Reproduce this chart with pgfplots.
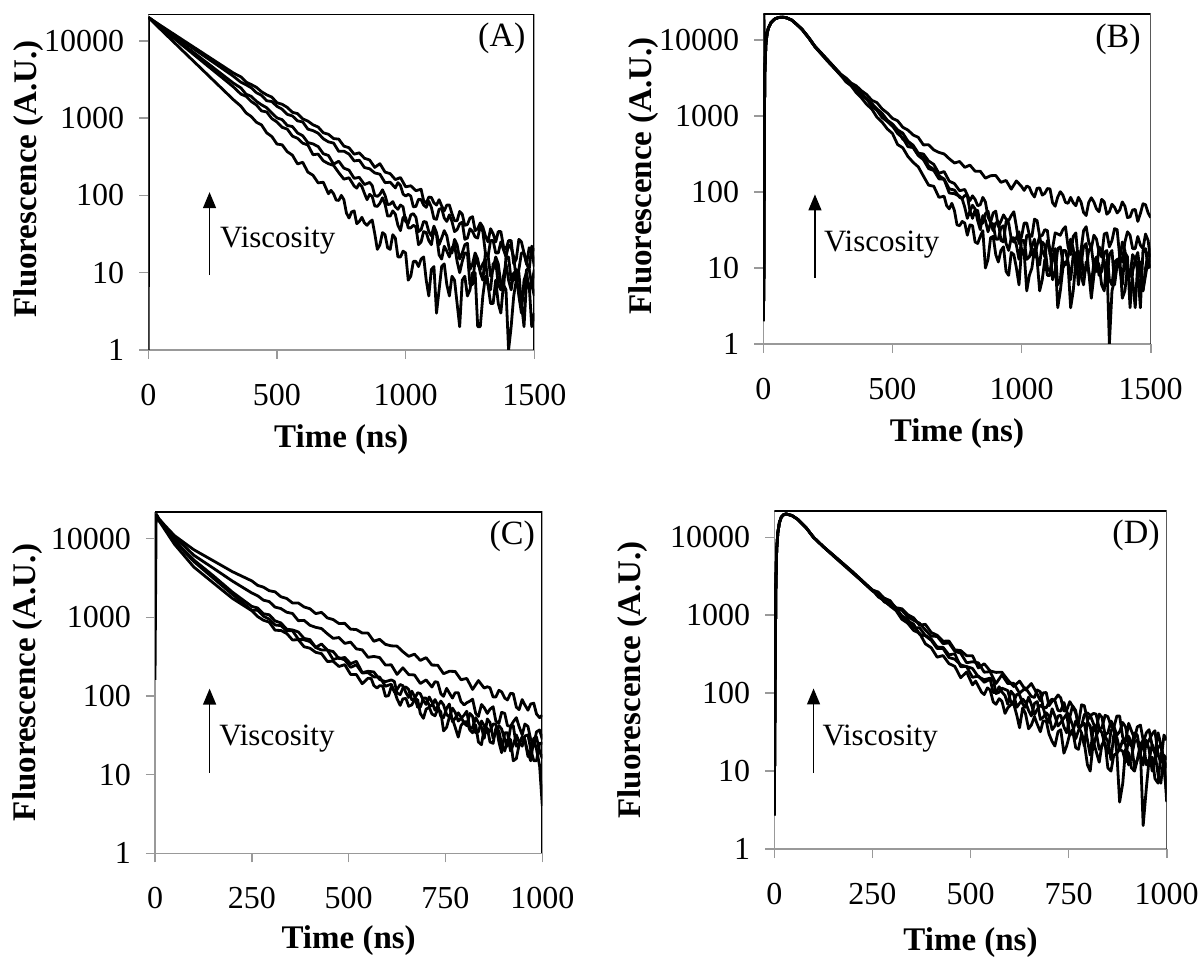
\documentclass[border=0pt]{standalone}
\usepackage{fontspec}
\setmainfont{Liberation Serif}
\usepackage{pgfplots}
\pgfplotsset{compat=1.18}
\usetikzlibrary{arrows.meta}

\pgfplotsset{
  every axis/.append style={
    scale only axis, ymode=log, ymin=1, ymax=22000,
    ytick={1,10,100,1000,10000}, yticklabels={1,10,100,1000,10000},
    yminorticks=false, xminorticks=false,
    axis x line*=bottom, axis y line*=left,
    axis line style={gray!80, line width=0.8pt, -},
    tick align=outside, major tick length=4.5pt,
    tick style={gray!80, line width=0.8pt},
    tick label style={font=\fontsize{16}{18}\selectfont},
    xticklabel style={yshift=-9pt},
    yticklabel style={xshift=-4pt},
    label style={font=\fontsize{16.5}{19}\selectfont\bfseries},
    xlabel={Time (ns)}, ylabel={Fluorescence (A.U.)},
  },
}
\tikzset{
  fcurve/.style={black, line width=1.4pt, line join=round, mark=none},
  fann/.style={font=\fontsize{15.5}{18}\selectfont, inner sep=0pt},
  ftag/.style={font=\fontsize{17}{19}\selectfont, inner sep=0pt},
  farr/.style={-{Triangle[width=6.5pt,length=8pt]}, line width=0.7pt},
}
\newcommand{\frameTR}{\draw[black, line width=0.9pt] (rel axis cs:0,1) -- (rel axis cs:1,1) -- (rel axis cs:1,0);}

\begin{document}
\begin{tikzpicture}

% ---------------- (A) ----------------
\begin{axis}[at={(74.15pt,304.5pt)}, anchor=south west,
  width=193pt, height=167.85pt, xmin=0, xmax=1500,
  xtick={0,500,1000,1500}, xticklabels={0,500,1000,1500},
  ylabel style={at={(axis description cs:-0.309,0.51)}, anchor=center},
  xlabel style={at={(axis description cs:0.5,-0.268)}, anchor=center}]
\addplot[fcurve] table {
0 1
1 20000
50 13800
100 9530
150 6580
200 4550
250 3140
300 2170
330 1735
360 1424
380 1165
400 1047
420 883
440 815
460 644
480 577
500 461
520 451
540 367
560 331
580 255
600 268
620 200
640 182
660 145
680 148
700 105
710 116
720 105
730 87
740 86
750 100
760 88
770 59
780 51
790 61
800 63
810 43
820 46
830 52
840 44
850 41
860 45
870 48
880 32
890 20
900 23
910 33
920 31
930 21
940 20
950 31
960 28
970 16
980 16
990 19
1000 18
1010 8
1020 9
1030 14
1040 14
1050 12
1060 15
1070 16
1080 8
1090 5
1100 11
1110 12
1120 3
1130 6
1140 12
1150 13
1160 7
1170 5
1180 9
1190 8
1200 4
1210 2
1220 8
1230 9
1240 5
1250 6
1260 10
1270 10
1280 2
1290 2
1300 5
1310 9
1320 7
1330 4
1340 4
1350 8
1360 4
1370 3
1380 7
1390 6
1400 1
1410 2
1420 5
1430 8
1440 6
1450 4
1460 2
1470 8
1480 7
1490 2
1500 3
};
\addplot[fcurve] table {
1 20000
50 14620
100 10700
150 7830
200 5730
250 4190
300 3070
330 2540
360 2040
380 1910
400 1638
420 1477
440 1237
460 1199
480 984
500 890
520 759
540 720
560 584
580 547
600 473
620 449
640 336
660 342
680 280
700 257
720 244
740 197
760 162
780 169
800 132
810 124
820 142
830 130
840 106
850 88
860 103
870 97
880 73
890 72
900 79
910 93
920 77
930 54
940 54
950 63
960 57
970 41
980 35
990 52
1000 52
1010 38
1020 38
1030 41
1040 39
1050 23
1060 25
1070 34
1080 33
1090 26
1100 23
1110 36
1120 31
1130 17
1140 15
1150 22
1160 19
1170 16
1180 21
1190 23
1200 14
1210 10
1220 14
1230 18
1240 18
1250 7
1260 7
1270 15
1280 13
1290 11
1300 13
1310 15
1320 7
1330 6
1340 13
1350 14
1360 7
1370 6
1380 9
1390 13
1400 8
1410 6
1420 10
1430 9
1440 5
1450 3
1460 8
1470 10
1480 6
1490 7
1500 11
};
\addplot[fcurve] table {
1 20000
50 14890
100 11070
150 8240
200 6120
250 4560
300 3390
330 2840
360 2450
380 2035
400 1910
420 1647
440 1484
460 1360
480 1164
500 1004
520 955
540 803
560 776
580 642
600 591
620 482
640 463
660 428
680 346
700 328
720 253
740 277
760 225
780 212
800 166
820 171
840 138
860 147
870 134
880 100
890 97
900 103
910 118
920 100
930 76
940 77
950 83
960 71
970 66
980 75
990 71
1000 46
1010 43
1020 56
1030 58
1040 52
1050 34
1060 36
1070 46
1080 45
1090 34
1100 30
1110 40
1120 33
1130 23
1140 28
1150 35
1160 30
1170 20
1180 18
1190 27
1200 23
1210 15
1220 18
1230 23
1240 24
1250 11
1260 13
1270 18
1280 15
1290 10
1300 8
1310 18
1320 17
1330 9
1340 11
1350 16
1360 13
1370 7
1380 6
1390 16
1400 16
1410 8
1420 8
1430 11
1440 10
1450 4
1460 6
1470 11
1480 11
1490 7
1500 5
};
\addplot[fcurve] table {
1 20000
50 15350
100 11780
150 9040
200 6930
250 5330
300 4090
330 3490
360 2903
380 2695
400 2465
420 2132
440 1969
460 1676
480 1636
500 1417
520 1303
540 1117
560 1065
580 920
600 891
620 720
640 687
660 638
680 540
700 492
720 475
740 371
760 373
780 342
800 279
820 285
840 229
860 221
880 195
900 188
920 146
940 148
960 125
970 146
980 134
990 104
1000 98
1010 103
1020 98
1030 71
1040 72
1050 89
1060 88
1070 75
1080 70
1090 84
1100 70
1110 50
1120 49
1130 66
1140 68
1150 51
1160 46
1170 56
1180 46
1190 34
1200 36
1210 43
1220 45
1230 27
1240 28
1250 37
1260 34
1270 29
1280 28
1290 40
1300 34
1310 18
1320 16
1330 26
1340 26
1350 18
1360 18
1370 25
1380 20
1390 16
1400 23
1410 21
1420 16
1430 8
1440 11
1450 18
1460 18
1470 13
1480 11
1490 22
1500 19
};
\addplot[fcurve] table {
1 20000
50 15560
100 12130
150 9440
200 7360
250 5730
300 4470
330 3840
360 3408
380 2921
400 2715
420 2500
440 2191
460 1997
480 1868
500 1578
520 1507
540 1375
560 1187
580 1142
600 976
620 914
640 818
660 766
680 645
700 617
720 543
740 534
760 434
780 413
800 341
820 355
840 302
860 287
880 230
900 257
920 200
940 191
960 160
980 170
1000 129
1020 133
1040 115
1060 120
1070 85
1080 79
1090 95
1100 94
1110 80
1120 75
1130 88
1140 73
1150 63
1160 75
1170 75
1180 58
1190 47
1200 47
1210 62
1220 57
1230 41
1240 42
1250 51
1260 53
1270 35
1280 37
1290 44
1300 39
1310 30
1320 25
1330 37
1340 32
1350 25
1360 34
1370 34
1380 22
1390 20
1400 26
1410 26
1420 13
1430 15
1440 27
1450 25
1460 18
1470 13
1480 21
1490 20
1500 12
};
\draw[farr] (axis cs:238,9.3) -- (axis cs:238,110);
\node[fann, anchor=west] at (axis cs:278,26) {Viscosity};
\node[ftag, anchor=north east] at (rel axis cs:0.978,0.975) {(A)};
\frameTR
\end{axis}

% ---------------- (B) ----------------
\begin{axis}[at={(381.65pt,307.5pt)}, anchor=south west,
  width=193.7pt, height=165pt, xmin=0, xmax=1500,
  xtick={0,500,1000,1500}, xticklabels={0,500,1000,1500},
  ylabel style={at={(axis description cs:-0.308,0.51)}, anchor=center},
  xlabel style={at={(axis description cs:0.5,-0.27)}, anchor=center}]
\addplot[fcurve] table {
0 2
2 6
3 21500
4 800
6 4000
10 9000
15 12500
20 14500
30 17000
45 19000
60 19800
75 20000
90 19600
110 18300
130 16000
150 13700
175 10700
200 8100
250 5200
300 3434
320 2811
340 2500
360 2023
380 1730
400 1423
420 1235
440 964
460 831
480 677
500 590
520 421
540 382
560 293
580 246
600 214
620 162
640 123
660 119
680 85
700 88
710 66
720 60
730 71
740 57
750 37
760 36
770 41
780 39
790 27
800 37
810 36
820 22
830 21
840 26
850 31
860 10
870 13
880 25
890 26
900 15
910 12
920 17
930 19
940 9
950 8
960 16
970 15
980 10
990 6
1000 18
1010 16
1020 5
1030 8
1040 10
1050 18
1060 13
1070 5
1080 7
1090 13
1100 8
1110 8
1120 13
1130 14
1140 3
1150 5
1160 10
1170 12
1180 11
1190 3
1200 5
1210 12
1220 12
1230 8
1240 6
1250 12
1260 9
1270 4
1280 8
1290 13
1300 11
1310 6
1320 5
1330 13
1340 1
1350 5
1360 7
1370 12
1380 14
1390 4
1400 5
1410 10
1420 9
1430 7
1440 3
1450 12
1460 12
1470 5
1480 8
1490 13
1500 10
};
\addplot[fcurve] table {
0 2
2 6
4 800
6 4000
10 9000
15 12500
20 14500
30 17000
45 19000
60 19800
75 20000
90 19600
110 18300
130 16000
150 13800
175 10800
200 8200
250 5350
300 3535
320 2976
340 2513
360 2234
380 1861
400 1673
420 1365
440 1186
460 955
480 851
500 743
520 588
540 516
560 395
580 384
600 302
620 266
640 203
660 192
680 149
700 147
720 97
740 95
760 88
770 81
780 63
790 45
800 56
810 67
820 60
830 42
840 32
850 49
860 42
870 30
880 39
890 38
900 24
910 24
920 34
930 36
940 21
950 17
960 25
970 25
980 20
990 13
1000 23
1010 23
1020 13
1030 14
1040 19
1050 24
1060 14
1070 11
1080 22
1090 20
1100 10
1110 9
1120 14
1130 18
1140 6
1150 7
1160 17
1170 17
1180 12
1190 7
1200 15
1210 16
1220 6
1230 11
1240 19
1250 21
1260 9
1270 6
1280 12
1290 14
1300 8
1310 9
1320 16
1330 17
1340 7
1350 6
1360 12
1370 13
1380 10
1390 6
1400 16
1410 14
1420 3
1430 9
1440 13
1450 16
1460 8
1470 5
1480 10
1490 16
1500 14
};
\addplot[fcurve] table {
0 2
2 6
4 800
6 4000
10 9000
15 12500
20 14500
30 17000
45 19000
60 19800
75 20000
90 19600
110 18300
130 16000
150 13800
175 10800
200 8200
250 5350
300 3489
320 3036
340 2545
360 2258
380 1900
400 1706
420 1363
440 1201
460 1044
480 855
500 733
520 650
540 496
560 455
580 389
600 306
620 287
640 220
660 199
680 164
700 148
720 110
740 106
760 85
770 82
780 90
790 89
800 57
810 45
820 58
830 57
840 38
850 39
860 52
870 56
880 39
890 31
900 39
910 41
920 23
930 22
940 41
950 39
960 24
970 22
980 25
990 30
1000 17
1010 15
1020 27
1030 27
1040 15
1050 14
1060 20
1070 26
1080 17
1090 14
1100 23
1110 18
1120 7
1130 9
1140 18
1150 19
1160 12
1170 11
1180 14
1190 24
1200 18
1210 9
1220 12
1230 17
1240 8
1250 10
1260 17
1270 19
1280 10
1290 9
1300 19
1310 17
1320 11
1330 7
1340 15
1350 17
1360 6
1370 11
1380 13
1390 22
1400 17
1410 7
1420 8
1430 15
1440 13
1450 9
1460 3
1470 17
1480 18
1490 10
1500 11
};
\addplot[fcurve] table {
0 2
2 6
4 800
6 4000
10 9000
15 12500
20 14500
30 17000
45 19000
60 19800
75 20000
90 19600
110 18300
130 16000
150 13800
175 10800
200 8200
250 5350
300 3418
320 3049
340 2651
360 2233
380 2004
400 1674
420 1464
440 1242
460 1084
480 882
500 786
520 656
540 596
560 466
580 413
600 325
620 316
640 256
660 231
680 176
700 186
720 139
740 129
760 104
780 108
800 77
810 89
820 80
830 66
840 68
850 85
860 74
870 47
880 40
890 53
900 56
910 35
920 41
930 50
940 44
950 42
960 49
970 55
980 35
990 21
1000 26
1010 39
1020 39
1030 27
1040 26
1050 44
1060 42
1070 26
1080 27
1090 32
1100 31
1110 15
1120 18
1130 29
1140 28
1150 27
1160 32
1170 35
1180 19
1190 15
1200 26
1210 29
1220 12
1230 17
1240 31
1250 35
1260 22
1270 18
1280 27
1290 24
1300 16
1310 14
1320 28
1330 29
1340 19
1350 23
1360 33
1370 32
1380 14
1390 12
1400 22
1410 30
1420 27
1430 18
1440 18
1450 26
1460 20
1470 18
1480 28
1490 23
1500 12
};
\addplot[fcurve] table {
0 2
2 6
4 800
6 4000
10 9000
15 12500
20 14500
30 17000
45 19000
60 19800
75 20000
90 19600
110 18300
130 16000
150 13900
175 10900
200 8300
250 5450
300 3554
320 3171
340 2720
360 2493
380 2151
400 1920
420 1612
440 1500
460 1240
480 1098
500 932
520 865
540 711
560 653
580 564
600 523
620 417
640 418
660 358
680 332
700 317
720 274
740 241
760 252
780 211
800 226
820 188
840 188
860 152
880 164
900 165
920 134
940 142
960 109
980 140
1000 118
1010 105
1020 120
1030 115
1040 96
1050 86
1060 112
1070 113
1080 91
1090 96
1100 111
1110 110
1120 72
1130 65
1140 86
1150 101
1160 91
1170 73
1180 71
1190 85
1200 72
1210 66
1220 85
1230 74
1240 54
1250 49
1260 73
1270 84
1280 74
1290 60
1300 55
1310 80
1320 74
1330 51
1340 55
1350 69
1360 63
1370 53
1380 58
1390 74
1400 65
1410 46
1420 47
1430 58
1440 59
1450 41
1460 52
1470 70
1480 68
1490 53
1500 46
};
\draw[farr] (axis cs:200,7.5) -- (axis cs:200,93);
\node[fann, anchor=west] at (axis cs:234,20.5) {Viscosity};
\node[ftag, anchor=north east] at (rel axis cs:0.975,0.972) {(B)};
\frameTR
\end{axis}

% ---------------- (C) ----------------
\begin{axis}[at={(77.5pt,52.85pt)}, anchor=south west,
  width=193.65pt, height=170.8pt, xmin=0, xmax=1000,
  xtick={0,250,500,750,1000}, xticklabels={0,250,500,750,1000},
  ylabel style={at={(axis description cs:-0.33,0.5)}, anchor=center},
  xlabel style={at={(axis description cs:0.5,-0.255)}, anchor=center}]
\addplot[fcurve] table {
0 160
3 20400
10 17000
25 13100
50 8510
75 6100
100 4365
150 2750
200 1738
250 1212
265 1022
280 918
295 867
310 685
325 680
340 624
355 515
370 519
385 422
400 405
415 359
430 345
445 275
460 276
475 237
490 250
505 188
520 187
535 143
550 168
558 167
565 136
573 126
580 135
588 134
595 99
603 101
610 130
618 117
625 92
633 76
640 92
648 93
655 74
663 77
670 89
678 90
685 60
693 52
700 68
708 72
715 59
723 56
730 68
738 63
745 36
753 40
760 54
768 51
775 40
783 30
790 42
798 47
805 47
813 37
820 34
828 43
835 26
843 24
850 39
858 39
865 26
873 25
880 39
888 36
895 24
903 20
910 28
918 28
925 15
933 16
940 24
948 30
955 27
963 19
970 15
978 28
985 21
993 13
1000 4
};
\addplot[fcurve] table {
3 20400
10 17200
25 13500
50 9330
75 6900
100 5130
150 3160
200 1950
250 1231
265 1225
280 1034
295 949
310 798
325 785
340 673
355 676
370 528
385 518
400 491
415 413
430 384
445 384
460 290
475 307
490 287
505 231
520 249
535 196
550 198
565 175
580 174
595 133
610 141
618 112
625 121
633 140
640 135
648 110
655 96
663 115
670 99
678 72
685 72
693 94
700 94
708 76
715 75
723 90
730 77
738 55
745 53
753 70
760 79
768 47
775 52
783 61
790 54
798 45
805 42
813 60
820 55
828 34
835 35
843 48
850 42
858 34
865 36
873 44
880 44
888 26
895 19
903 34
910 34
918 20
925 24
933 32
940 26
948 23
955 31
963 32
970 21
978 15
985 15
993 25
1000 25
};
\addplot[fcurve] table {
3 20400
10 17300
25 13700
50 9550
75 7150
100 5370
150 3390
200 2089
250 1375
265 1314
280 1110
295 1076
310 901
325 849
340 706
355 691
370 652
385 539
400 521
415 415
430 458
445 383
460 367
475 298
490 309
505 257
520 276
535 198
550 206
565 202
580 162
595 152
610 160
618 153
625 109
633 104
640 126
648 130
655 121
663 89
670 91
678 110
685 107
693 87
700 78
708 97
715 84
723 66
730 74
738 86
745 77
753 58
760 54
768 70
775 62
783 48
790 52
798 57
805 64
813 38
820 40
828 53
835 46
843 40
850 29
858 51
865 46
873 29
880 35
888 42
895 38
903 28
910 23
918 40
925 42
933 23
940 25
948 30
955 28
963 17
970 20
978 29
985 30
993 20
1000 16
};
\addplot[fcurve] table {
3 20400
10 17600
25 14200
50 10230
75 8130
100 6166
150 4230
200 2884
250 2038
265 1879
280 1651
295 1585
310 1348
325 1291
340 1160
355 1119
370 906
385 914
400 792
415 746
430 719
445 618
460 540
475 553
490 466
505 484
520 397
535 386
550 310
565 318
580 308
595 247
610 249
625 188
640 228
655 187
670 185
685 144
700 160
715 130
723 152
730 149
738 107
745 99
753 125
760 109
768 94
775 110
783 110
790 85
798 77
805 82
813 86
820 91
828 60
835 55
843 78
850 71
858 60
865 68
873 73
880 48
888 45
895 62
903 60
910 42
918 41
925 47
933 53
940 41
948 32
955 44
963 41
970 28
978 24
985 35
993 37
1000 28
};
\addplot[fcurve] table {
3 20400
10 18000
25 14800
50 10960
75 8900
100 7244
150 5250
200 3800
250 2902
265 2547
280 2417
295 2177
310 2109
325 1826
340 1735
355 1521
370 1522
385 1354
400 1285
415 1114
430 1156
445 983
460 936
475 833
490 839
505 707
520 698
535 632
550 630
565 496
580 525
595 453
610 434
625 430
640 366
655 319
670 340
685 283
700 307
715 247
730 246
745 192
760 206
775 205
790 161
805 167
820 121
835 157
850 126
858 131
865 127
873 97
880 97
888 118
895 113
903 94
910 89
918 108
925 107
933 72
940 67
948 90
955 77
963 66
970 79
978 81
985 59
993 53
1000 57
};
\draw[farr] (axis cs:141,10.6) -- (axis cs:141,124);
\node[fann, anchor=west] at (axis cs:165,29) {Viscosity};
\node[ftag, anchor=north east] at (rel axis cs:0.982,0.975) {(C)};
\frameTR
\end{axis}

% ---------------- (D) ----------------
\begin{axis}[at={(387.15pt,55pt)}, anchor=south west,
  width=196.2pt, height=169.15pt, xmin=0, xmax=1000,
  xtick={0,250,500,750,1000}, xticklabels={0,250,500,750,1000},
  ylabel style={at={(axis description cs:-0.36,0.5)}, anchor=center},
  xlabel style={at={(axis description cs:0.5,-0.278)}, anchor=center}]
\addplot[fcurve] table {
0 2.7
2 150
4 2500
6 7000
9 11500
13 15500
18 18300
24 19600
30 20000
45 19050
60 17000
80 13500
100 10000
125 7590
150 5800
200 3470
250 2107
265 1722
280 1543
295 1316
310 1152
325 889
340 791
355 639
370 590
385 430
400 383
415 290
430 304
445 240
460 221
475 158
490 187
505 128
513 143
520 123
528 103
535 96
543 117
550 110
558 77
565 72
573 85
580 79
588 55
595 65
603 71
610 73
618 52
625 36
633 65
640 55
648 35
655 39
663 50
670 40
678 32
685 44
693 44
700 30
708 24
715 21
723 32
730 34
738 17
745 21
753 30
760 34
768 20
775 19
783 30
790 23
798 12
805 10
813 24
820 18
828 13
835 22
843 23
850 11
858 10
865 16
873 17
880 4
888 7
895 19
903 17
910 11
918 10
925 14
933 18
940 2
948 6
955 14
963 15
970 8
978 7
985 17
993 15
1000 4
};
\addplot[fcurve] table {
0 2.7
2 150
4 2500
6 7000
9 11500
13 15500
18 18300
24 19600
30 20000
45 19050
60 17000
80 13500
100 10000
125 7590
150 5890
200 3520
250 2059
265 1901
280 1491
295 1357
310 1201
325 970
340 840
355 771
370 569
385 546
400 476
415 374
430 376
445 287
460 273
475 231
490 219
505 160
520 166
535 138
550 151
558 102
565 102
573 121
580 104
588 93
595 72
603 106
610 96
618 66
625 74
633 84
640 77
648 60
655 51
663 74
670 78
678 46
685 49
693 56
700 51
708 34
715 38
723 51
730 52
738 37
745 31
753 49
760 39
768 26
775 33
783 39
790 41
798 25
805 16
813 37
820 32
828 19
835 21
843 28
850 24
858 14
865 29
873 27
880 19
888 18
895 13
903 28
910 23
918 11
925 14
933 22
940 25
948 12
955 14
963 22
970 17
978 9
985 7
993 16
1000 14
};
\addplot[fcurve] table {
0 2.7
2 150
4 2500
6 7000
9 11500
13 15500
18 18300
24 19600
30 20000
45 19050
60 17000
80 13500
100 10000
125 7590
150 5890
200 3550
250 2065
265 1848
280 1507
295 1390
310 1236
325 986
340 891
355 684
370 692
385 551
400 496
415 391
430 388
445 311
460 320
475 219
490 220
505 208
520 162
535 149
550 156
558 150
565 99
573 103
580 116
588 112
595 108
603 76
610 78
618 97
625 95
633 73
640 66
648 89
655 72
663 53
670 62
678 70
685 65
693 48
700 42
708 63
715 51
723 38
730 42
738 48
745 54
753 29
760 31
768 44
775 37
783 31
790 21
798 43
805 38
813 21
820 28
828 35
835 31
843 21
850 17
858 33
865 36
873 17
880 19
888 25
895 22
903 12
910 15
918 24
925 25
933 16
940 12
948 25
955 19
963 10
970 15
978 20
985 22
993 11
1000 5
};
\addplot[fcurve] table {
0 2.7
2 150
4 2500
6 7000
9 11500
13 15500
18 18300
24 19600
30 20000
45 19050
60 17000
80 13500
100 10000
125 7590
150 5920
200 3580
250 2078
265 1911
280 1662
295 1542
310 1207
325 1160
340 962
355 862
370 792
385 648
400 538
415 536
430 433
445 442
460 345
475 326
490 246
505 253
520 245
535 186
550 189
565 133
580 172
595 133
610 134
625 100
640 117
655 91
663 88
670 110
678 104
685 66
693 65
700 77
708 84
715 80
723 60
730 59
738 76
745 58
753 49
760 69
768 60
775 37
783 38
790 53
798 56
805 52
813 41
820 34
828 54
835 49
843 29
850 31
858 44
865 38
873 29
880 32
888 42
895 37
903 23
910 21
918 31
925 29
933 17
940 23
948 31
955 34
963 21
970 17
978 31
985 22
993 14
1000 11
};
\addplot[fcurve] table {
0 2.7
2 150
4 2500
6 7000
9 11500
13 15500
18 18300
24 19600
30 20000
45 19050
60 17000
80 13500
100 10000
125 7590
150 5950
200 3600
250 2114
265 1986
280 1642
295 1508
310 1251
325 1212
340 1020
355 928
370 748
385 766
400 601
415 554
430 465
445 467
460 360
475 353
490 303
505 303
520 211
535 239
550 193
565 185
580 186
595 148
610 122
625 143
640 110
655 133
663 113
670 97
678 80
685 101
693 102
700 69
708 79
715 83
723 95
730 87
738 59
745 60
753 78
760 68
768 56
775 40
783 71
790 69
798 45
805 51
813 55
820 54
828 35
835 36
843 52
850 50
858 38
865 36
873 51
880 51
888 27
895 24
903 41
910 33
918 26
925 37
933 39
940 25
948 21
955 25
963 30
970 33
978 16
985 13
993 29
1000 25
};
\draw[farr] (axis cs:100,9.4) -- (axis cs:100,115);
\node[fann, anchor=west] at (axis cs:122,26) {Viscosity};
\node[ftag, anchor=north east] at (rel axis cs:0.983,0.974) {(D)};
\frameTR
\end{axis}

\pgfresetboundingbox
\path[use as bounding box] (0,0) rectangle (601pt,479.5pt);
\end{tikzpicture}
\end{document}
